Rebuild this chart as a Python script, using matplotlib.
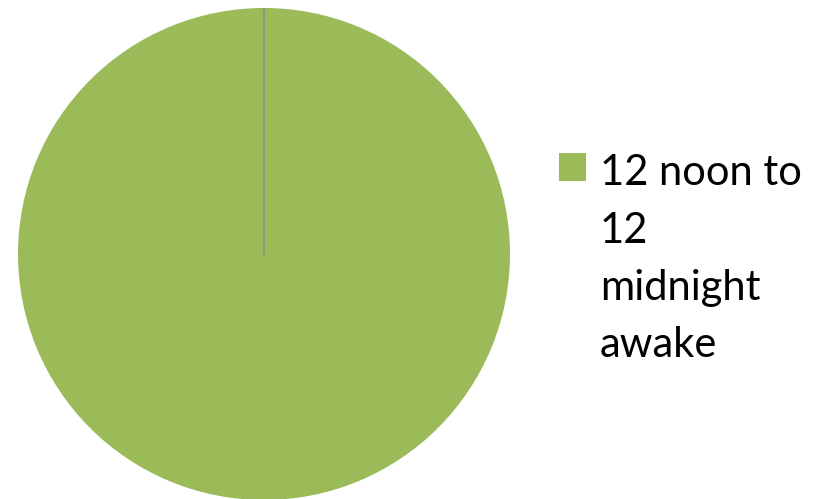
import matplotlib
matplotlib.use("Agg")
import matplotlib.pyplot as plt
from matplotlib.patches import Rectangle

label = "12 noon to\n12\nmidnight\nawake"
values = [100]
colors = ["#9BBB59"]

plt.rcParams['font.family'] = ['Lato', 'DejaVu Sans']

W, H = 825, 499
fig = plt.figure(figsize=(W / 100, H / 100), dpi=100)
ax = fig.add_axes([18 / W, -1 / H, 492 / W, 492 / H])

wedges, _ = ax.pie(values, colors=colors, startangle=90, counterclock=False,
                   radius=1, wedgeprops=dict(linewidth=0))
# the single slice's start edge, from centre to the top
w = wedges[0]
cx, cy = w.center
ax.plot([cx, cx], [cy, cy + w.r], color="#8c8c8c", linewidth=1.2)
ax.set_xlim(-1, 1)
ax.set_ylim(-1, 1)
ax.set_aspect("equal")
ax.axis("off")

# legend: square key + wrapped label (baseline given for the last line)
fig.patches.append(Rectangle((559 / W, 1 - 181 / H), 27 / W, 28 / H,
                             facecolor=colors[0], edgecolor="none",
                             transform=fig.transFigure, figure=fig))
fig.text(600 / W, 1 - 357 / H, label, fontsize=30, va="baseline", ha="left",
         linespacing=1.62, color="black")

fig.savefig("out.png", dpi=100)
